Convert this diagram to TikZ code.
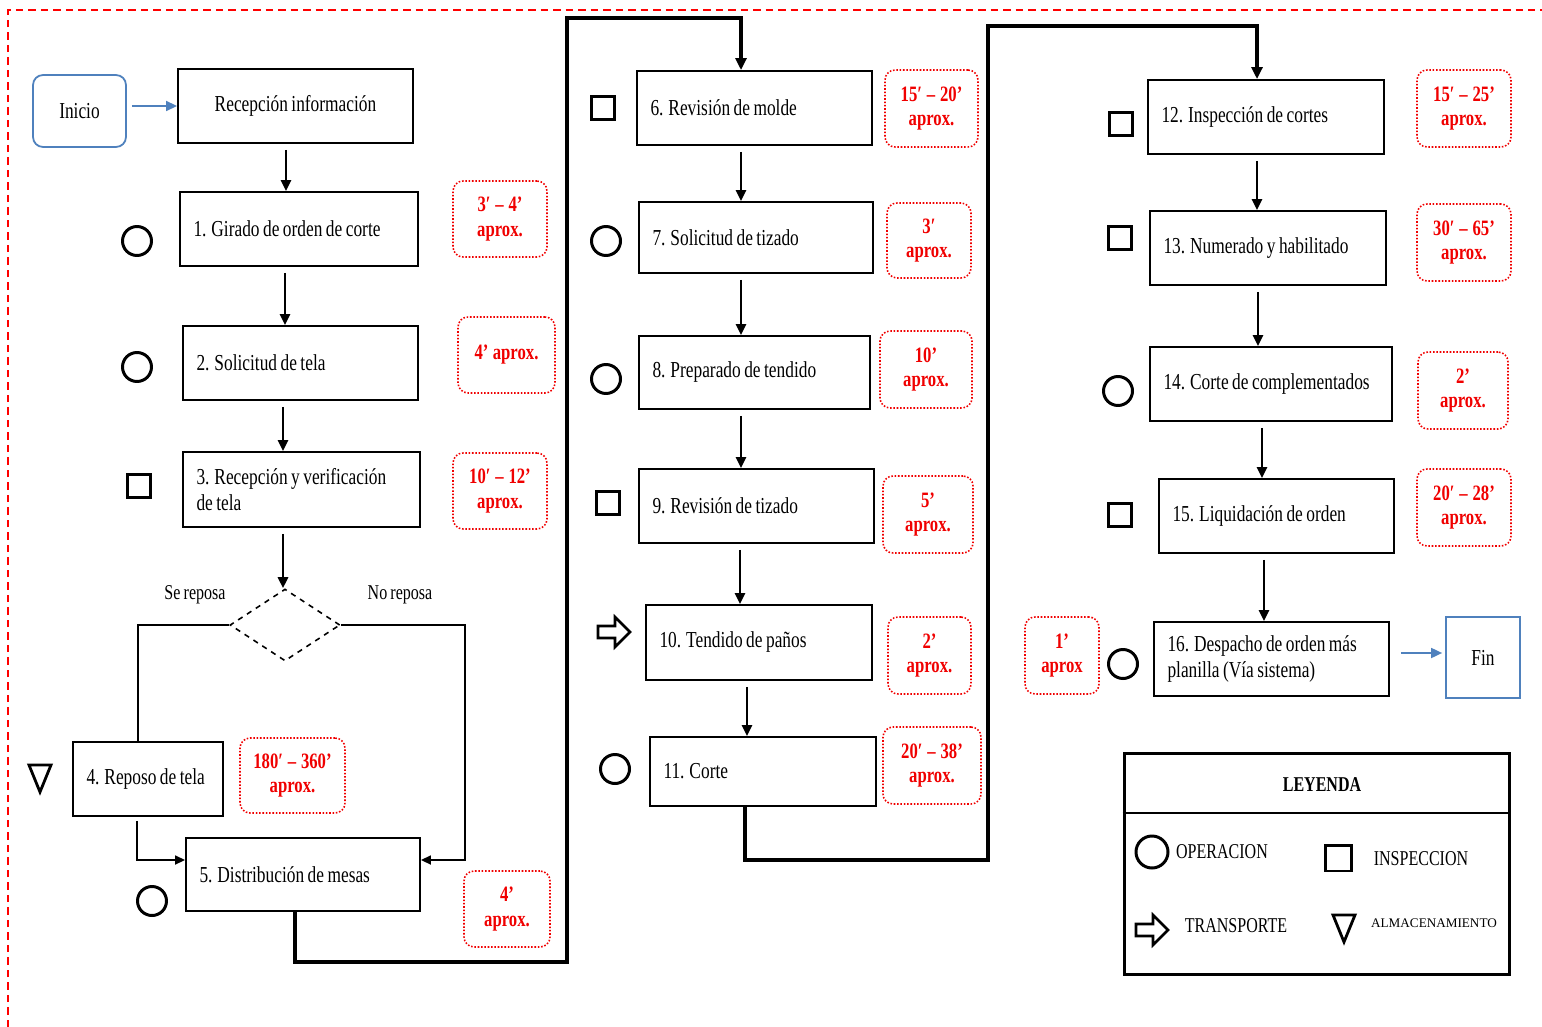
\documentclass[tikz,border=0pt]{standalone}
\usepackage{fontspec}
\setmainfont{Liberation Serif}[FakeStretch=0.76, WordSpace={0.8,0.3,0.3}]
\newfontfamily\widefont{Liberation Serif}
\usetikzlibrary{arrows.meta,shapes.geometric}
\definecolor{flowblue}{RGB}{79,129,189}
\definecolor{timered}{RGB}{240,0,0}
\newcommand\rng[2]{#1\hspace{0.22em}–\hspace{0.22em}#2}
\tikzset{
  proc/.style={draw, line width=1.1pt, inner xsep=0.27cm, inner ysep=0pt,
    align=flush left, font={\fontsize{13}{15}\selectfont\hyphenpenalty10000\relax}},
  tbox/.style={draw=timered, densely dotted, line width=0.9pt, rounded corners=0.2cm,
    text=timered, font=\bfseries\fontsize{12.5}{14}\selectfont, align=center, inner sep=0pt},
  opc/.style={circle, draw, line width=1.7pt, minimum size=0.58cm, inner sep=0pt},
  insq/.style={rectangle, draw, line width=1.7pt, minimum size=0.46cm, inner sep=0pt},
  arr/.style={line width=1.5pt, -{Triangle[length=0.22cm,width=0.2cm]}, shorten <=0.12cm},
  bluearr/.style={draw=flowblue, line width=1pt, -{Triangle[length=0.22cm,width=0.2cm]}},
  link/.style={line width=1pt},
  bigline/.style={line width=2.3pt, line join=miter, -{Triangle[length=0.24cm,width=0.22cm]}},
  lbl/.style={font=\fontsize{12}{14}\selectfont, inner sep=0pt},
  storesym/.pic={\draw[line width=1.6pt, line join=miter] (-11,-13) -- (11,-13) -- (0,14) -- cycle;},
  transym/.pic={\draw[line width=1.5pt, line join=miter]
      (-16,-6) -- (1,-6) -- (1,-15) -- (16,0) -- (1,15) -- (1,6) -- (-16,6) -- cycle;}
}
\begin{document}
\begin{tikzpicture}[x=0.02cm, y=-0.02cm]
\useasboundingbox (0,0) rectangle (1542,1027);
% page frame (top and left edges)
\draw[red, line width=0.9pt, dash pattern=on 0.15cm off 0.1cm] (8,1027) -- (8,10) -- (1542,10);

% ---------- column 1 ----------
\node[draw=flowblue, line width=1pt, rounded corners=0.2cm, minimum width=1.86cm,
      minimum height=1.44cm, font=\fontsize{13}{15}\selectfont] (inicio) at (79.5,111) {Inicio};
\node[proc, align=center, minimum width=4.7cm, minimum height=1.48cm] (r0) at (295.5,106) {Recepción información};
\node[proc, text width=4.22cm, minimum height=1.48cm] (b1) at (299,229) {1. Girado de orden de corte};
\node[proc, text width=4.16cm, minimum height=1.48cm] (b2) at (300.5,363) {2. Solicitud de tela};
\node[proc, text width=4.20cm, minimum height=1.5cm] (b3) at (301.5,489.5) {3. Recepción y verificación\\de tela};
\node[diamond, draw, dashed, line width=0.9pt, minimum width=2.2cm, minimum height=1.44cm, inner sep=0pt] (dec) at (285,625) {};
\node[lbl] (lse) at (195,595) {Se reposa};
\node[lbl] (lno) at (400,595) {No reposa};
\node[proc, text width=2.46cm, minimum height=1.48cm] (b4) at (148,779) {4. Reposo de tela};
\node[proc, text width=4.14cm, minimum height=1.46cm] (b5) at (303,874.5) {5. Distribución de mesas};

\node[tbox, minimum width=1.88cm, minimum height=1.52cm] (t1) at (500,219) {\rng{3′}{4’}\\aprox.};
\node[tbox, minimum width=1.94cm, minimum height=1.52cm] (t2) at (506.5,355) {4’\hspace{0.2em}aprox.};
\node[tbox, minimum width=1.88cm, minimum height=1.52cm] (t3) at (500,491) {\rng{10′}{12’}\\aprox.};
\node[tbox, minimum width=2.1cm, minimum height=1.5cm] (t4) at (292.5,775.5) {\rng{180′}{360’}\\aprox.};
\node[tbox, minimum width=1.72cm, minimum height=1.52cm] (t5) at (507,909) {4’\\aprox.};

\node[opc] (s1) at (137,241) {};
\node[opc] (s2) at (137,367) {};
\node[insq] (s3) at (139,486) {};
\pic at (40,778) {storesym};
\node[opc] (s5) at (152,901) {};

% ---------- column 2 ----------
\node[proc, text width=4.16cm, minimum height=1.48cm] (b6) at (754.5,108) {6. Revisión de molde};
\node[proc, text width=4.14cm, minimum height=1.42cm] (b7) at (756,237.5) {7. Solicitud de tizado};
\node[proc, text width=4.08cm, minimum height=1.46cm] (b8) at (754.5,372.5) {8. Preparado de tendido};
\node[proc, text width=4.16cm, minimum height=1.48cm] (b9) at (756.5,506) {9. Revisión de tizado};
\node[proc, text width=3.98cm, minimum height=1.5cm] (b10) at (759,642.5) {10. Tendido de paños};
\node[proc, text width=3.98cm, minimum height=1.38cm] (b11) at (763,771.5) {11. Corte};

\node[tbox, minimum width=1.86cm, minimum height=1.54cm] (t6) at (931.5,108.5) {\rng{15′}{20’}\\aprox.};
\node[tbox, minimum width=1.68cm, minimum height=1.5cm] (t7) at (929,240.5) {3′\\aprox.};
\node[tbox, minimum width=1.84cm, minimum height=1.54cm] (t8) at (926,369.5) {10’\\aprox.};
\node[tbox, minimum width=1.8cm, minimum height=1.54cm] (t9) at (928,514.5) {5’\\aprox.};
\node[tbox, minimum width=1.66cm, minimum height=1.54cm] (t10) at (929.5,655.5) {2’\\aprox.};
\node[tbox, minimum width=1.96cm, minimum height=1.54cm] (t11) at (932,765.5) {\rng{20′}{38’}\\aprox.};

\node[insq] (s6) at (603,108) {};
\node[opc] (s7) at (606,241) {};
\node[opc] (s8) at (606,379) {};
\node[insq] (s9) at (608,503) {};
\pic at (614,632) {transym};
\node[opc] (s11) at (615,769) {};

% ---------- column 3 ----------
\node[proc, text width=4.18cm, minimum height=1.48cm] (b12) at (1266,117) {12. Inspección de cortes};
\node[proc, text width=4.18cm, minimum height=1.48cm] (b13) at (1268,248) {13. Numerado y habilitado};
\node[proc, text width=4.30cm, minimum height=1.48cm] (b14) at (1271,384) {14. Corte de complementados};
\node[proc, text width=4.16cm, minimum height=1.48cm] (b15) at (1276.5,516) {15. Liquidación de orden};
\node[proc, text width=4.16cm, minimum height=1.48cm] (b16) at (1271.5,659) {16. Despacho de orden más\\planilla (Vía sistema)};
\node[draw=flowblue, line width=1pt, minimum width=1.48cm, minimum height=1.62cm,
      font=\fontsize{13}{15}\selectfont] (fin) at (1483,657.5) {Fin};

\node[tbox, minimum width=1.88cm, minimum height=1.54cm] (t12) at (1464,108.5) {\rng{15′}{25’}\\aprox.};
\node[tbox, minimum width=1.88cm, minimum height=1.54cm] (t13) at (1464,242.5) {\rng{30′}{65’}\\aprox.};
\node[tbox, minimum width=1.8cm, minimum height=1.54cm] (t14) at (1463,390.5) {2’\\aprox.};
\node[tbox, minimum width=1.88cm, minimum height=1.54cm] (t15) at (1464,507.5) {\rng{20′}{28’}\\aprox.};
\node[tbox, minimum width=1.48cm, minimum height=1.54cm] (t16) at (1062,655.5) {1’\\aprox};

\node[insq] (s12) at (1121,124) {};
\node[insq] (s13) at (1120,238) {};
\node[opc] (s14) at (1118,391) {};
\node[insq] (s15) at (1120,515) {};
\node[opc] (s16) at (1123,664) {};

% ---------- connectors ----------
\draw[bluearr, shorten <=0.1cm] (inicio.east |- 0,106) -- (r0.west |- 0,106);
\draw[arr] (r0.south -| 286,0) -- (b1.north -| 286,0);
\draw[arr] (b1.south -| 285,0) -- (b2.north -| 285,0);
\draw[arr] (b2.south -| 283,0) -- (b3.north -| 283,0);
\draw[arr] (b3.south -| 283,0) -- (dec.north -| 283,0);
\draw[link] (dec.west) -| ([xshift=-0.2cm]b4.north);
\coordinate (nr) at (465,625);
\draw[link, -{Triangle[length=0.2cm,width=0.18cm]}] (dec.east) -- (nr) |- ([yshift=0.29cm]b5.east);
\draw[link, -{Triangle[length=0.2cm,width=0.18cm]}, shorten <=0.08cm] ([xshift=-0.22cm]b4.south) |- ([yshift=0.29cm]b5.west);

\coordinate (c1) at (295,962);
\coordinate (c2) at (567,962);
\coordinate (c3) at (567,18);
\coordinate (c4) at (741,18);
\draw[bigline] (b5.south -| c1) -- (c1) -- (c2) -- (c3) -- (c4) -- (b6.north -| c4);

\draw[arr] (b6.south -| 741,0) -- (b7.north -| 741,0);
\draw[arr] (b7.south -| 741,0) -- (b8.north -| 741,0);
\draw[arr] (b8.south -| 741,0) -- (b9.north -| 741,0);
\draw[arr] (b9.south -| 740,0) -- (b10.north -| 740,0);
\draw[arr] (b10.south -| 747,0) -- (b11.north -| 747,0);

\coordinate (d1) at (745,860);
\coordinate (d2) at (988,860);
\coordinate (d3) at (988,26);
\coordinate (d4) at (1257,26);
\draw[bigline] (b11.south -| d1) -- (d1) -- (d2) -- (d3) -- (d4) -- (b12.north -| d4);

\draw[arr] (b12.south -| 1257,0) -- (b13.north -| 1257,0);
\draw[arr] (b13.south -| 1258,0) -- (b14.north -| 1258,0);
\draw[arr] (b14.south -| 1262,0) -- (b15.north -| 1262,0);
\draw[arr] (b15.south -| 1264,0) -- (b16.north -| 1264,0);
\draw[bluearr, shorten <=0.22cm, shorten >=0.06cm] (b16.east |- 0,653) -- (fin.west |- 0,653);

% ---------- legend ----------
\node[draw, line width=1.7pt, minimum width=7.72cm, minimum height=4.44cm] (leg) at (1317,864) {};
\draw[line width=1.2pt] (leg.west |- 0,813) -- (leg.east |- 0,813);
\node[font=\bfseries\fontsize{12}{14}\selectfont] (legt) at (1322,785) {LEYENDA};
\node[opc, minimum size=0.64cm] (lop) at (1152,852) {};
\node[lbl] (lopt) at (1222,852) {OPERACION};
\node[insq, minimum size=0.52cm] (lin) at (1338,858) {};
\node[lbl] (lint) at (1421,859) {INSPECCION};
\pic at (1152,930) {transym};
\node[lbl] (ltrt) at (1236,926) {TRANSPORTE};
\pic at (1344,928) {storesym};
\node[inner sep=0pt, font=\widefont\fontsize{7.5}{9}\selectfont] (lalt) at (1434,923) {ALMACENAMIENTO};
\end{tikzpicture}
\end{document}
